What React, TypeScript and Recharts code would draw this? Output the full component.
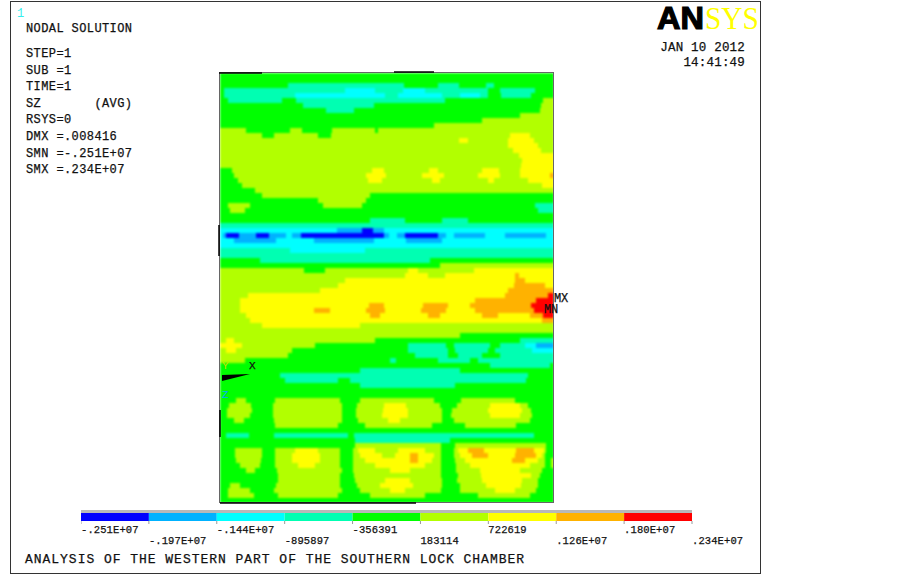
import { BarChart, Bar, XAxis, YAxis } from "recharts";

// contour band colours, lowest stress to highest
const BAND_COLORS = ["#0000ff", "#00b2ff", "#00ffff", "#00ffb2", "#00ff00", "#b2ff00", "#ffff00", "#ffb200", "#ff0000"];

const LEVEL_LABELS = [
  "-.251E+07", "-.197E+07", "-.144E+07", "-895897", "-356391",
  "183114", "722619", ".126E+07", ".180E+07", ".234E+07",
];

const INFO_LINES = ["STEP=1", "SUB =1", "TIME=1", "SZ       (AVG)", "RSYS=0", "DMX =.008416", "SMN =-.251E+07", "SMX =.234E+07"];

const SECTION_WIDTH = 334;

// one string per row, top to bottom: "band:end" read along the section
const BAND_ROWS = [
  "4:334",
  "4:334",
  "4:68 3:184 4:218 3:239 4:266 3:274 4:334",
  "4:4 3:125 2:155 3:183 2:205 3:268 4:280 3:315 4:334",
  "4:4 3:75 2:165 3:178 2:222 3:240 2:260 3:268 4:281 3:311 4:334",
  "4:8 3:62 4:76 3:225 4:323 5:334",
  "4:83 3:154 4:321 5:334",
  "4:106 3:134 4:320 5:334",
  "4:300 5:334",
  "4:262 5:334",
  "4:214 5:334",
  "5:26 4:70 5:82 4:112 5:155 4:158 5:334",
  "5:42 4:54 5:98 4:111 5:290 6:310 5:334",
  "5:239 6:248 5:288 6:314 5:334",
  "5:288 6:318 5:334",
  "5:293 6:321 5:334",
  "5:299 6:334",
  "5:302 6:334",
  "5:301 6:334",
  "4:12 5:152 6:164 5:209 6:218 5:262 6:279 5:300 6:334",
  "4:14 5:146 6:166 5:202 6:224 5:258 6:280 5:300 6:330 7:334",
  "4:18 5:148 6:162 5:212 6:220 5:268 6:274 5:308 6:334",
  "4:22 5:322 6:334",
  "4:35 5:334",
  "4:42 5:150 4:334",
  "4:98 5:146 4:334",
  "4:8 5:30 4:103 5:142 4:315 3:334",
  "4:10 5:25 4:318 3:334",
  "4:334",
  "4:150 3:185 4:222 3:248 4:334",
  "3:334",
  "2:117 1:142 0:153 1:164 2:334",
  "2:3 1:6 0:19 1:36 0:49 1:66 2:72 1:81 0:164 1:169 2:177 1:185 0:218 1:226 2:234 1:265 2:285 1:326 2:334",
  "2:14 1:56 2:94 1:154 2:186 1:222 2:334",
  "2:334",
  "3:70 2:145 3:334",
  "3:334",
  "4:40 3:210 4:334",
  "4:220 5:334",
  "5:84 4:105 5:188 6:198 5:254 6:334",
  "5:185 6:208 5:225 6:295 7:299 6:334",
  "5:125 6:295 7:305 6:334",
  "5:118 6:294 7:325 6:334",
  "5:100 6:288 7:334",
  "5:28 6:285 7:328 8:334",
  "5:20 6:255 7:316 8:334",
  "5:20 6:149 7:164 6:203 7:228 6:250 7:311 8:334",
  "5:20 6:94 7:110 6:146 7:165 6:201 7:226 6:255 7:314 8:334",
  "5:26 6:150 7:160 6:208 7:220 6:262 7:278 6:310 7:323 8:334",
  "5:30 6:322 7:334",
  "5:42 6:140 5:334",
  "5:334",
  "5:240 4:334",
  "5:6 6:14 5:155 4:300 3:334",
  "6:22 5:95 4:188 3:226 4:234 3:270 4:280 3:305 2:316 1:334",
  "5:6 6:16 5:72 4:188 3:228 4:235 3:268 4:275 3:312 2:334",
  "5:68 4:195 3:228 4:238 3:262 4:280 3:334",
  "5:25 4:170 3:176 4:218 3:250 4:258 3:334",
  "4:270 3:330 4:334",
  "4:140 3:240 4:334",
  "4:60 3:308 4:334",
  "4:65 3:118 4:130 3:306 4:334",
  "4:140 3:235 4:334",
  "4:334",
  "4:334",
  "4:16 5:26 4:55 5:120 4:140 5:214 4:241 5:295 4:334",
  "4:9 5:31 4:53 5:122 4:137 5:164 6:186 5:220 4:237 5:270 6:300 5:308 4:334",
  "4:7 5:32 4:53 5:122 4:136 5:163 6:188 5:222 4:232 5:268 6:302 5:311 4:334",
  "4:7 5:30 4:53 5:122 4:136 5:162 6:188 5:222 4:231 5:270 6:300 5:312 4:334",
  "4:14 5:24 4:54 5:122 4:138 5:168 6:180 5:222 4:234 5:310 4:334",
  "4:55 5:118 4:145 5:212 4:245 5:296 4:334",
  "4:334",
  "4:6 3:29 4:54 3:128 4:134 3:314 4:334",
  "4:135 3:230 4:334",
  "4:135 5:221 4:235 5:326 4:334",
  "4:15 5:42 4:55 5:75 6:98 5:120 4:133 5:138 6:155 5:178 6:205 5:221 4:234 5:238 6:248 7:264 6:296 7:314 6:324 5:326 4:334",
  "4:15 5:42 4:55 5:72 6:100 5:120 4:133 5:140 6:162 5:175 6:190 7:198 6:214 5:221 4:234 5:240 6:252 7:268 6:295 7:316 6:322 5:325 4:334",
  "4:16 5:41 4:55 5:72 6:100 5:120 4:133 5:145 6:190 7:198 6:212 5:221 4:235 5:245 6:292 7:305 6:318 5:325 4:331 5:334",
  "4:20 5:40 4:55 5:78 6:95 5:120 4:133 5:155 6:205 5:221 4:236 5:250 6:310 5:325 4:331 5:334",
  "4:26 5:35 4:57 5:122 4:133 5:170 6:190 5:221 4:236 5:260 6:300 5:322 4:334",
  "4:58 5:120 4:134 5:221 4:238 5:261 6:311 5:320 4:334",
  "4:58 5:120 4:135 5:165 6:190 5:222 4:237 5:262 6:302 5:318 4:334",
  "4:10 5:20 4:56 5:120 4:137 5:160 6:193 5:222 4:240 5:266 6:301 5:318 4:334",
  "4:8 5:30 4:54 5:122 4:140 5:170 6:185 5:221 4:240 5:275 6:295 5:316 4:334",
  "4:8 5:34 4:58 5:118 4:150 5:205 4:258 5:310 4:334",
  "4:334",
];

// turn the band strings into stacked segments, one stack per row
const parsedRows = BAND_ROWS.map((r) => r.split(" ").map((s) => s.split(":").map(Number)));
const maxSegs = Math.max(...parsedRows.map((r) => r.length));
const rowData = parsedRows.map((segs, i) => {
  const row: Record<string, number> = { row: i };
  let prev = 0;
  segs.forEach(([band, end], k) => {
    row[`s${k}`] = end - prev;
    row[`b${k}`] = band;
    prev = end;
  });
  return row;
});
const segIndexes = Array.from({ length: maxSegs }, (_, k) => k);

const legendRow: Record<string, number> = { row: 0 };
BAND_COLORS.forEach((_, k) => {
  legendRow[`c${k}`] = 1;
});
const legendTicks = LEVEL_LABELS.map((_, i) => i);

const MONO = "'Liberation Mono', 'DejaVu Sans Mono', monospace";
const INK = { fill: "#111", stroke: "#111", strokeWidth: 0.25 };

const LegendTick = (props: any) => {
  const { x, y, payload } = props;
  const second = payload.value % 2 === 1;
  return (
    <text x={x} y={y + (second ? 17.5 : 6.5)} fontFamily={MONO} fontSize={10.5} letterSpacing={0.1} {...INK}>
      {LEVEL_LABELS[payload.value]}
    </text>
  );
};

const Annotations = () => (
  <svg width={903} height={576} style={{ position: "absolute", left: 0, top: 0 }}>
    <rect x={10.5} y={1.5} width={750} height={572} fill="none" stroke="#333" />
    <rect x={219.5} y={72.5} width={334} height={430} fill="none" stroke="#666" />
    <line x1={219} y1={73} x2={262} y2={73} stroke="#000" strokeWidth={1.5} />
    <line x1={394} y1={72} x2={434} y2={72} stroke="#000" strokeWidth={1.5} />
    <line x1={219} y1={225} x2={219} y2={256} stroke="#000" strokeWidth={1.5} />
    <line x1={220} y1={410} x2={220} y2={437} stroke="#000" strokeWidth={1.5} />
    <line x1={220} y1={503} x2={416} y2={503} stroke="#000" strokeWidth={1.5} />

    <text x={17} y={17} fontFamily={MONO} fontSize={12} fill="#33eeee">1</text>
    <text x={26} y={32} fontFamily={MONO} fontSize={12} letterSpacing={0.4} {...INK}>NODAL SOLUTION</text>
    {INFO_LINES.map((t, i) => (
      <text key={t} x={26} y={57 + i * 16.6} fontFamily={MONO} fontSize={12} letterSpacing={0.4} {...INK} xmlSpace="preserve">
        {t}
      </text>
    ))}

    <text x={657} y={29} fontFamily="'Liberation Sans', sans-serif" fontWeight={700} fontSize={31} textLength={47} lengthAdjust="spacingAndGlyphs" stroke="#000" strokeWidth={1.2}>AN</text>
    <text x={705} y={29} fontFamily="'Liberation Serif', serif" fontSize={31} textLength={54} lengthAdjust="spacingAndGlyphs" fill="#ffff00">SYS</text>
    <text x={745} y={51} textAnchor="end" fontFamily={MONO} fontSize={12.5} letterSpacing={0.2} {...INK}>JAN 10 2012</text>
    <text x={745} y={66} textAnchor="end" fontFamily={MONO} fontSize={12.5} letterSpacing={0.2} {...INK}>14:41:49</text>

    <text x={554} y={302} fontFamily={MONO} fontSize={12} letterSpacing={-0.2} {...INK}>MX</text>
    <text x={544} y={313} fontFamily={MONO} fontSize={12} letterSpacing={-0.2} {...INK}>MN</text>
    <polygon points="222,375 250,374 222,381" fill="#000" />
    <text x={249} y={369} fontFamily={MONO} fontSize={11} {...INK}>X</text>
    <text x={222} y={369} fontFamily={MONO} fontSize={11} fill="#c8e000">Y</text>
    <text x={222} y={398} fontFamily={MONO} fontSize={11} fill="#00aaff">Z</text>

    <text x={25} y={563} fontFamily={MONO} fontSize={13} letterSpacing={0.97} {...INK}>
      ANALYSIS OF THE WESTERN PART OF THE SOUTHERN LOCK CHAMBER
    </text>
  </svg>
);

export default function App() {
  return (
    <div style={{ position: "absolute", left: 0, top: 0, width: 903, height: 576, overflow: "hidden", background: "#fff" }}>
      {/* contour plot, softened a little because the source picture is a soft raster */}
      <div style={{ position: "absolute", left: 220, top: 73, width: SECTION_WIDTH, height: 430, overflow: "hidden" }}>
        <div style={{ filter: "blur(0.9px)" }}>
          <BarChart width={SECTION_WIDTH} height={430} data={rowData} layout="vertical" barCategoryGap={0} margin={{ top: 0, right: 0, bottom: 0, left: 0 }}>
            <XAxis type="number" domain={[0, SECTION_WIDTH]} hide />
            <YAxis type="category" dataKey="row" hide />
            {segIndexes.map((k) => (
              <Bar
                key={k}
                dataKey={`s${k}`}
                stackId="a"
                isAnimationActive={false}
                shape={(p: any) =>
                  p.width > 0 ? (
                    <rect x={p.x} y={p.y} width={p.width} height={p.height} fill={BAND_COLORS[p.payload[`b${k}`]]} shapeRendering="crispEdges" />
                  ) : (
                    <g />
                  )
                }
              />
            ))}
          </BarChart>
        </div>
      </div>

      {/* colour key */}
      <div style={{ position: "absolute", left: 81, top: 510, width: 611, height: 3, background: "#b8b8b8" }} />
      <div style={{ position: "absolute", left: 81, top: 513 }}>
        <BarChart width={690} height={38} data={[legendRow]} layout="vertical" barCategoryGap={0} margin={{ top: 0, right: 79, bottom: 0, left: 0 }}>
          <XAxis
            type="number"
            domain={[0, BAND_COLORS.length]}
            ticks={legendTicks}
            interval={0}
            height={30}
            axisLine={false}
            tickLine={{ stroke: "#999" }}
            tickSize={3}
            tick={<LegendTick />}
          />
          <YAxis type="category" dataKey="row" hide />
          {BAND_COLORS.map((c, k) => (
            <Bar key={c} dataKey={`c${k}`} stackId="k" fill={c} isAnimationActive={false} />
          ))}
        </BarChart>
      </div>

      <Annotations />
    </div>
  );
}
